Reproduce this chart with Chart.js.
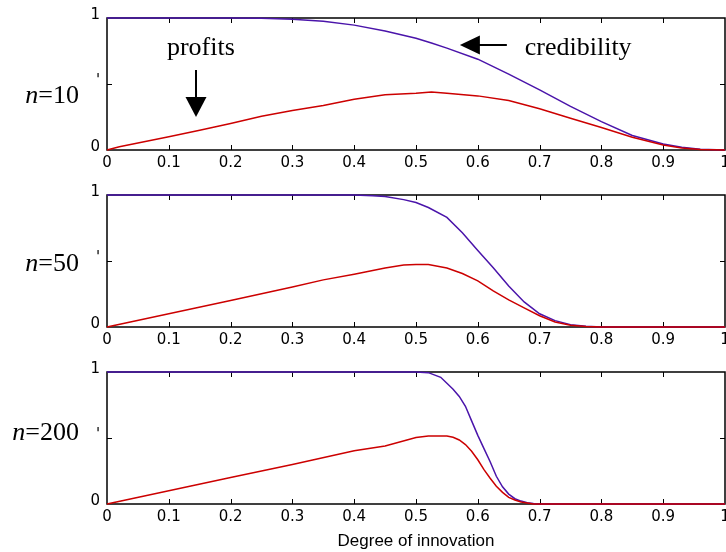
<!DOCTYPE html>
<html>
<head>
<meta charset="utf-8">
<script src="https://cdn.jsdelivr.net/npm/chart.js@4.4.0/dist/chart.umd.min.js"></script>
<style>
  html, body { margin: 0; padding: 0; background: #fff; overflow: hidden; width: 726px; height: 552px; position: relative; }
  canvas { position: absolute; left: 0; }
</style>
</head>
<body>
<canvas id="p10" width="760" height="180" style="top:0px"></canvas>
<canvas id="p50" width="760" height="180" style="top:177px"></canvas>
<canvas id="p200" width="760" height="198" style="top:354px"></canvas>
<script>
// grado de innovación (x) y las dos curvas para cada n
const xN10 = [0, 0.02, 0.1, 0.15, 0.2, 0.25, 0.3, 0.35, 0.4, 0.45, 0.5, 0.525, 0.55, 0.6, 0.65, 0.7, 0.75, 0.8, 0.85, 0.9, 0.93, 0.96, 1];
const profitsN10 = [0, 0.025, 0.1, 0.15, 0.2, 0.255, 0.3, 0.337, 0.384, 0.418, 0.43, 0.44, 0.43, 0.41, 0.375, 0.312, 0.24, 0.17, 0.096, 0.038, 0.015, 0.003, 0];
const credN10 = [1, 1, 1, 1, 1, 0.998, 0.99, 0.975, 0.946, 0.902, 0.847, 0.81, 0.772, 0.688, 0.575, 0.455, 0.33, 0.215, 0.11, 0.046, 0.02, 0.005, 0];

const xN50 = [0, 0.1, 0.2, 0.3, 0.35, 0.4, 0.43, 0.45, 0.48, 0.5, 0.52, 0.55, 0.575, 0.6, 0.625, 0.65, 0.675, 0.7, 0.725, 0.75, 0.775, 0.8, 1];
const profitsN50 = [0, 0.1, 0.2, 0.303, 0.357, 0.4, 0.428, 0.447, 0.47, 0.474, 0.474, 0.447, 0.405, 0.35, 0.273, 0.205, 0.145, 0.085, 0.038, 0.014, 0.004, 0, 0];
const credN50 = [1, 1, 1, 1, 1, 1, 0.995, 0.988, 0.965, 0.943, 0.905, 0.83, 0.714, 0.58, 0.449, 0.31, 0.19, 0.1, 0.048, 0.018, 0.006, 0, 0];

const xN200 = [0, 0.1, 0.2, 0.3, 0.4, 0.45, 0.5, 0.52, 0.54, 0.55, 0.56, 0.57, 0.58, 0.59, 0.6, 0.61, 0.62, 0.63, 0.64, 0.65, 0.66, 0.67, 0.68, 0.69, 0.7, 1];
const profitsN200 = [0, 0.1, 0.2, 0.3, 0.404, 0.44, 0.503, 0.515, 0.515, 0.515, 0.505, 0.485, 0.45, 0.4, 0.335, 0.26, 0.195, 0.135, 0.088, 0.05, 0.03, 0.015, 0.007, 0, 0, 0];
const credN200 = [1, 1, 1, 1, 1, 1, 1, 0.995, 0.96, 0.915, 0.87, 0.815, 0.74, 0.63, 0.52, 0.42, 0.32, 0.21, 0.13, 0.075, 0.04, 0.022, 0.01, 0.004, 0, 0];

const xTicks = [0, 0.1, 0.2, 0.3, 0.4, 0.5, 0.6, 0.7, 0.8, 0.9, 1];
const yTicks = [0, 0.5, 1];

const RED = '#cc0000';
const PURPLE = '#4a14aa';

// caja estilo MATLAB con marcas hacia adentro, etiquetas n=.. y flechas
const boxPlugin = {
  id: 'box',
  beforeDatasetsDraw(chart) {
    const { ctx, chartArea: a, scales: { x, y } } = chart;
    ctx.save();
    ctx.strokeStyle = '#000';
    ctx.lineWidth = 1.5;
    ctx.strokeRect(a.left, a.top, a.right - a.left, a.bottom - a.top);
    ctx.lineWidth = 1;
    ctx.beginPath();
    xTicks.forEach(v => {
      if (v <= 0 || v >= 1) return;
      const px = Math.round(x.getPixelForValue(v)) + 0.5;
      ctx.moveTo(px, a.bottom); ctx.lineTo(px, a.bottom - 5);
      ctx.moveTo(px, a.top); ctx.lineTo(px, a.top + 5);
    });
    yTicks.forEach(v => {
      if (v <= 0 || v >= 1) return;
      const py = Math.round(y.getPixelForValue(v)) + 0.5;
      ctx.moveTo(a.left, py); ctx.lineTo(a.left + 5, py);
      ctx.moveTo(a.right, py); ctx.lineTo(a.right - 5, py);
    });
    ctx.stroke();
    ctx.restore();
  },
  afterDatasetsDraw(chart, args, opts) {
    const { ctx, scales: { x, y } } = chart;
    ctx.save();
    ctx.fillStyle = '#000';
    ctx.textBaseline = 'alphabetic';
    // etiqueta n=..
    const by = y.getPixelForValue(opts.labelY);
    ctx.font = '26px "Liberation Serif"';
    const rest = '=' + opts.n;
    const wRest = ctx.measureText(rest).width;
    ctx.font = 'italic 26px "Liberation Serif"';
    const wN = ctx.measureText('n').width;
    const right = 79;
    ctx.fillText('n', right - wRest - wN, by);
    ctx.font = '26px "Liberation Serif"';
    ctx.fillText(rest, right - wRest, by);

    if (opts.notes) {
      ctx.font = '26px "Liberation Serif"';
      ctx.fillText('profits', x.getPixelForValue(0.097), y.getPixelForValue(0.72));
      ctx.fillText('credibility', x.getPixelForValue(0.676), y.getPixelForValue(0.72));

      ctx.strokeStyle = '#000';
      ctx.lineWidth = 2;
      // flecha hacia abajo (profits)
      const ax = Math.round(x.getPixelForValue(0.144));
      const ay0 = y.getPixelForValue(0.606);
      const tipY = y.getPixelForValue(0.25);
      ctx.beginPath();
      ctx.moveTo(ax, ay0); ctx.lineTo(ax, tipY - 18);
      ctx.stroke();
      ctx.beginPath();
      ctx.moveTo(ax - 10.5, tipY - 20); ctx.lineTo(ax + 10.5, tipY - 20); ctx.lineTo(ax, tipY);
      ctx.closePath(); ctx.fill();
      // flecha hacia la izquierda (credibility)
      const cy = Math.round(y.getPixelForValue(0.795));
      const cx0 = x.getPixelForValue(0.647);
      const tipX = x.getPixelForValue(0.571);
      ctx.beginPath();
      ctx.moveTo(cx0, cy); ctx.lineTo(tipX + 18, cy);
      ctx.stroke();
      ctx.beginPath();
      ctx.moveTo(tipX + 20, cy - 9.5); ctx.lineTo(tipX + 20, cy + 9.5); ctx.lineTo(tipX, cy);
      ctx.closePath(); ctx.fill();
    }
    ctx.restore();
  }
};

function makePanel(id, xs, profits, cred, n, labelY, notes, withTitle) {
  const toPts = arr => xs.map((v, i) => ({ x: v, y: arr[i] }));
  return new Chart(document.getElementById(id), {
    type: 'line',
    data: {
      datasets: [
        { label: 'profits', data: toPts(profits), borderColor: RED, borderWidth: 1.5, pointRadius: 0, tension: 0, clip: false },
        { label: 'credibility', data: toPts(cred), borderColor: PURPLE, borderWidth: 1.5, pointRadius: 0, tension: 0, clip: false }
      ]
    },
    options: {
      responsive: false,
      animation: false,
      layout: { padding: { top: 18, right: 35, left: 0, bottom: 0 } },
      plugins: {
        legend: { display: false },
        tooltip: { enabled: false },
        box: { n: n, labelY: labelY, notes: notes }
      },
      scales: {
        x: {
          type: 'linear', min: 0, max: 1,
          grid: { display: false, drawTicks: false },
          border: { display: false },
          afterBuildTicks: s => { s.ticks = xTicks.map(v => ({ value: v })); },
          afterFit: s => { s.height = withTitle ? 48 : 30; },
          ticks: {
            autoSkip: false, maxRotation: 0, padding: 4, color: '#000',
            font: { family: 'DejaVu Sans', size: 15 },
            callback: v => (v === 0 || v === 1) ? String(v) : v.toFixed(1)
          },
          title: {
            display: withTitle, text: 'Degree of innovation', color: '#000',
            font: { family: 'Liberation Sans', size: 17 },
            padding: { top: 0, bottom: 0 }
          }
        },
        y: {
          type: 'linear', min: 0, max: 1,
          grid: { display: false, drawTicks: false },
          border: { display: false },
          afterBuildTicks: s => { s.ticks = yTicks.map(v => ({ value: v })); },
          afterFit: s => { s.width = 107; },
          ticks: {
            padding: 7, color: '#000', labelOffset: -3,
            font: { family: 'DejaVu Sans', size: 15 },
            callback: v => v === 0.5 ? '\'' : String(v)
          }
        }
      }
    },
    plugins: [boxPlugin]
  });
}

makePanel('p10', xN10, profitsN10, credN10, '10', 0.356, true, false);
makePanel('p50', xN50, profitsN50, credN50, '50', 0.423, false, false);
makePanel('p200', xN200, profitsN200, credN200, '200', 0.485, false, true);
</script>
</body>
</html>
